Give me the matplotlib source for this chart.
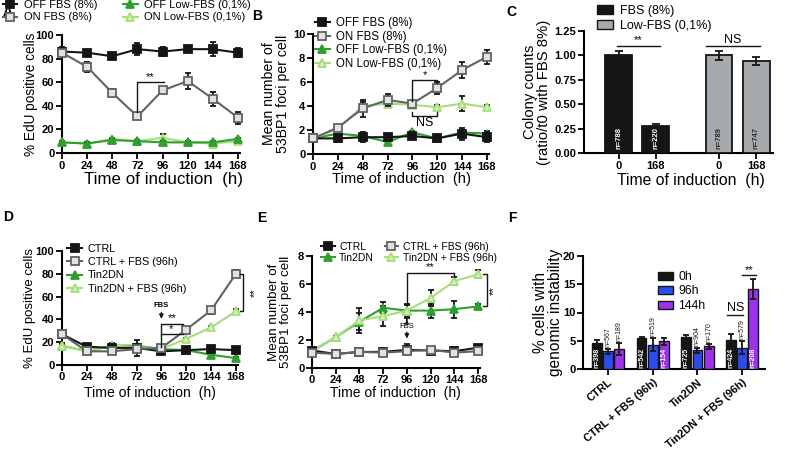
import matplotlib.pyplot as plt
from matplotlib.patches import Patch

plt.rcParams['font.family'] = ['Liberation Sans', 'DejaVu Sans']

W, H = 791, 451

hours = [0, 24, 48, 72, 96, 120, 144, 168]

# A - EdU, FBS vs low FBS
edu_off_fbs = [86, 85, 82, 88, 86, 88, 88, 85]
edu_off_fbs_err = [4, 2, 1, 5, 4, 1, 6, 4]
edu_on_fbs = [85, 73, 51, 31, 53, 61, 46, 30]
edu_on_fbs_err = [2, 4, 3, 1, 2, 7, 6, 5]
edu_off_low = [9, 8, 11, 10, 9, 9, 9, 12]
edu_off_low_err = [1, 1, 1, 1, 1, 1, 1, 1]
edu_on_low = [9, 8, 12, 10, 13, 9, 8, 10]
edu_on_low_err = [1, 1, 1, 1, 3, 1, 1, 1]

# B - 53BP1 foci, FBS vs low FBS
foci_off_fbs = [1.3, 1.3, 1.4, 1.4, 1.5, 1.3, 1.7, 1.4]
foci_off_fbs_err = [0.2, 0.3, 0.4, 0.2, 0.2, 0.15, 0.5, 0.4]
foci_on_fbs = [1.3, 2.2, 3.8, 4.5, 4.2, 5.5, 7.0, 8.1]
foci_on_fbs_err = [0.1, 0.2, 0.7, 0.5, 0.2, 0.5, 0.7, 0.6]
foci_off_low = [1.3, 1.7, 1.5, 1.0, 1.8, 1.3, 1.8, 1.7]
foci_off_low_err = [0.1, 0.1, 0.2, 0.1, 0.1, 0.1, 0.2, 0.2]
foci_on_low = [1.3, 2.1, 4.0, 4.2, 4.1, 3.9, 4.2, 3.9]
foci_on_low_err = [0.1, 0.2, 0.3, 0.3, 0.2, 0.2, 0.6, 0.2]

# C - colony counts
colony_ticks = ['0', '168', '0', '168']
colony_vals = [1.00, 0.28, 1.00, 0.94]
colony_err = [0.05, 0.015, 0.045, 0.04]
colony_n = ['n=788', 'n=220', 'n=789', 'n=747']

# D - EdU, Tin2DN
edu_ctrl = [27, 16, 15, 15, 12, 13, 14, 13]
edu_ctrl_err = [3, 2, 3, 7, 2, 1, 1, 1]
edu_ctrl_fbs = [27, 12, 12, 14, 15, 31, 48, 80]
edu_ctrl_fbs_err = [2, 2, 2, 2, 2, 2, 3, 3]
edu_tin = [17, 12, 17, 17, 14, 13, 9, 6]
edu_tin_err = [2, 1, 2, 1, 1, 1, 1, 1]
edu_tin_fbs = [17, 12, 17, 16, 14, 23, 33, 47]
edu_tin_fbs_err = [1, 1, 1, 1, 1, 1, 1, 2]

# E - 53BP1 foci, Tin2DN
foci_ctrl = [1.25, 1.0, 1.15, 1.15, 1.3, 1.25, 1.2, 1.45]
foci_ctrl_err = [0.1, 0.1, 0.1, 0.15, 0.4, 0.2, 0.3, 0.2]
foci_ctrl_fbs = [1.1, 1.0, 1.15, 1.1, 1.2, 1.3, 1.1, 1.2]
foci_ctrl_fbs_err = [0.1, 0.1, 0.1, 0.1, 0.2, 0.2, 0.15, 0.15]
foci_tin = [1.2, 2.2, 3.3, 4.3, 4.1, 4.1, 4.2, 4.4]
foci_tin_err = [0.1, 0.1, 0.6, 0.4, 0.5, 0.5, 0.6, 0.2]
foci_tin_fbs = [1.2, 2.2, 3.4, 3.7, 4.1, 5.0, 6.2, 6.7]
foci_tin_fbs_err = [0.1, 0.1, 0.9, 0.7, 0.4, 0.6, 0.3, 0.3]

# F - genomic instability
gi_groups = ['CTRL', 'CTRL + FBS (96h)', 'Tin2DN', 'Tin2DN + FBS (96h)']
gi_0h = [4.6, 5.4, 5.6, 5.2]
gi_0h_err = [0.5, 0.3, 0.5, 1.0]
gi_96h = [3.1, 4.3, 3.3, 3.8]
gi_96h_err = [0.5, 1.2, 0.5, 1.2]
gi_144h = [3.5, 4.9, 4.0, 14.2]
gi_144h_err = [1.1, 0.6, 0.4, 1.8]
n_0h = ['n=398', 'n=542', 'n=725', 'n=424']
n_96h = ['n=567', 'n=519', 'n=904', 'n=579']
n_144h = ['n=189', 'n=154', 'n=170', 'n=208']
n_144h_inside = [False, True, False, True]

BLACK = '#151515'
GRAY = '#606264'
GRAY_FILL = '#e2e2e2'
GREEN = '#2e9f2e'
LGREEN = '#a6de7c'
LGREEN_FILL = '#d3efbb'
BLUE = '#2b4df0'
PURPLE = '#9b32ec'
BAR_GRAY = '#a7aaad'

fig = plt.figure(figsize=(W / 100, H / 100), dpi=100)


def px(x, y):
    return x / W, 1 - y / H


def make_ax(left, right, top, bottom):
    return fig.add_axes([left / W, 1 - bottom / H, (right - left) / W, (bottom - top) / H])


def style(ax):
    for s in ['top', 'right']:
        ax.spines[s].set_visible(False)
    for s in ['left', 'bottom']:
        ax.spines[s].set_linewidth(1.5)
    ax.tick_params(width=1.3, length=4, labelsize=8, pad=1.5)


def bold_ticks(ax):
    for lab in ax.get_xticklabels() + ax.get_yticklabels():
        lab.set_fontweight('bold')


def labels(ax, xl, xpos, xsize, yl, ypos, ysize):
    if xl:
        ax.set_xlabel(xl, fontsize=xsize, va='center')
        ax.xaxis.set_label_coords(*px(*xpos), transform=fig.transFigure)
    ax.set_ylabel(yl, fontsize=ysize, va='center', linespacing=1.05)
    ax.yaxis.set_label_coords(*px(*ypos), transform=fig.transFigure)


def series(ax, y, err, color, marker, mfc, label, z):
    c = ax.errorbar(hours, y, yerr=err, color=color, marker=marker, ms=5.5,
                    mfc=mfc, mec=color, mew=1.3, lw=1.5, ecolor=BLACK,
                    elinewidth=1.3, capsize=2.5, capthick=1.3,
                    zorder=z, clip_on=False)
    c[0].set_label(label)
    return c[0]


def line_axes(ax, ymax, ystep):
    style(ax)
    ax.set_xlim(0, 170)
    ax.set_ylim(0, ymax)
    ax.set_xticks(hours)
    ax.set_yticks([ystep * i for i in range(int(round(ymax / ystep)) + 1)])
    bold_ticks(ax)


def bracket(ax, xs, ys):
    ax.plot(xs, ys, color=BLACK, lw=1, clip_on=False, zorder=6)


# ---------------- A ----------------
axA = make_ax(62, 240, 35, 153)
hA = [series(axA, edu_off_fbs, edu_off_fbs_err, BLACK, 's', BLACK, 'OFF FBS (8%)', 4),
      series(axA, edu_on_fbs, edu_on_fbs_err, GRAY, 's', GRAY_FILL, 'ON FBS (8%)', 5),
      series(axA, edu_off_low, edu_off_low_err, GREEN, '^', GREEN, 'OFF Low-FBS (0,1%)', 4),
      series(axA, edu_on_low, edu_on_low_err, LGREEN, '^', LGREEN_FILL, 'ON Low-FBS (0,1%)', 3)]
line_axes(axA, 100, 20)
labels(axA, 'Time of induction  (h)', (164, 179), 12.2, '% EdU positive cells', (30.5, 94), 9.8)
bracket(axA, [72, 72, 97], [35, 60, 60])
axA.text(84.5, 60.5, '**', ha='center', va='bottom', fontsize=8)
fig.legend(handles=hA, loc='upper left', bbox_to_anchor=px(3, 0), ncol=2,
           frameon=False, fontsize=8, handlelength=1.3, handletextpad=0.6,
           columnspacing=2.3, labelspacing=0.22, borderpad=0, borderaxespad=0,
           numpoints=1)

# ---------------- B ----------------
axB = make_ax(313, 489, 34, 154)
hB = [series(axB, foci_off_fbs, foci_off_fbs_err, BLACK, 's', BLACK, 'OFF FBS (8%)', 4),
      series(axB, foci_on_fbs, foci_on_fbs_err, GRAY, 's', GRAY_FILL, 'ON FBS (8%)', 5),
      series(axB, foci_off_low, foci_off_low_err, GREEN, '^', GREEN, 'OFF Low-FBS (0,1%)', 3),
      series(axB, foci_on_low, foci_on_low_err, LGREEN, '^', LGREEN_FILL, 'ON Low-FBS (0,1%)', 3)]
line_axes(axB, 10, 2)
labels(axB, 'Time of induction  (h)', (401, 179), 10.6,
       'Mean number of\n53BP1 foci per cell', (276, 94), 10.2)
bracket(axB, [96, 96, 120, 120], [4.45, 6.2, 6.2, 5.9])
axB.text(108, 6.2, '*', ha='center', va='bottom', fontsize=8)
bracket(axB, [96, 96, 120, 120], [3.5, 3.2, 3.2, 3.5])
axB.text(108, 3.05, 'NS', ha='center', va='top', fontsize=9)
fig.legend(handles=hB, loc='upper left', bbox_to_anchor=px(315, 17), ncol=1,
           frameon=False, fontsize=8.3, handlelength=1.3, handletextpad=0.5,
           labelspacing=0.15, borderpad=0, borderaxespad=0, numpoints=1)

# ---------------- C ----------------
axC = make_ax(584, 773, 31, 153)
style(axC)
cx = [0, 1, 2.7, 3.7]
ccol = [BLACK, BLACK, BAR_GRAY, BAR_GRAY]
axC.bar(cx, colony_vals, width=0.72, color=ccol, edgecolor=BLACK, linewidth=1.3,
        yerr=colony_err, error_kw=dict(ecolor=BLACK, elinewidth=1.3, capsize=3, capthick=1.3),
        zorder=3)
axC.set_xlim(-0.93, 4.15)
axC.set_ylim(0, 1.25)
axC.set_xticks(cx, colony_ticks)
axC.set_yticks([0, 0.25, 0.5, 0.75, 1.0, 1.25], ['0.00', '0.25', '0.50', '0.75', '1.00', '1.25'])
bold_ticks(axC)
for x, t, c in zip(cx, colony_n, ['white', 'white', '#2a2a2a', '#2a2a2a']):
    axC.text(x, 0.04, t, rotation=90, ha='center', va='bottom', fontsize=5.5,
             fontweight='bold', color=c, zorder=5)
labels(axC, 'Time of induction  (h)', (691, 180), 11.3,
       'Colony counts\n(ratio/t0 with FBS 8%)', (537, 92), 10.7)
bracket(axC, [-0.05, 1.1], [1.1, 1.1])
axC.text(0.52, 1.11, '**', ha='center', va='bottom', fontsize=8)
bracket(axC, [2.35, 3.8], [1.1, 1.1])
axC.text(3.07, 1.1, 'NS', ha='center', va='bottom', fontsize=9)
fig.legend(handles=[Patch(facecolor=BLACK, edgecolor=BLACK, label='FBS (8%)'),
                    Patch(facecolor=BAR_GRAY, edgecolor=BLACK, label='Low-FBS (0,1%)')],
           loc='upper left', bbox_to_anchor=px(597, 5), frameon=False, fontsize=9,
           handlelength=1.3, handleheight=0.75, handletextpad=0.55, labelspacing=0.2,
           borderpad=0, borderaxespad=0)

# ---------------- D ----------------
axD = make_ax(62, 238, 251, 365)
hD = [series(axD, edu_ctrl, edu_ctrl_err, BLACK, 's', BLACK, 'CTRL', 4),
      series(axD, edu_ctrl_fbs, edu_ctrl_fbs_err, GRAY, 's', GRAY_FILL, 'CTRL + FBS (96h)', 5),
      series(axD, edu_tin, edu_tin_err, GREEN, '^', GREEN, 'Tin2DN', 3),
      series(axD, edu_tin_fbs, edu_tin_fbs_err, LGREEN, '^', LGREEN_FILL, 'Tin2DN + FBS (96h)', 3)]
line_axes(axD, 100, 20)
axD.tick_params(axis='x', pad=1)
labels(axD, 'Time of induction  (h)', (150, 393), 10.1, '% EdU positive cells', (30, 308), 9.5)
bracket(axD, [96, 96, 117], [16, 36, 36])
axD.text(106, 36.5, '**', ha='center', va='bottom', fontsize=8)
bracket(axD, [96, 117], [27, 27])
axD.text(105, 27.5, '*', ha='center', va='bottom', fontsize=8)
axD.text(96, 49, 'FBS', ha='center', va='bottom', fontsize=5.5, fontweight='bold')
axD.annotate('', xy=(96, 38), xytext=(96, 48.5),
             arrowprops=dict(arrowstyle='-|>', color=BLACK, lw=1, mutation_scale=6))
bracket(axD, [172, 175, 175, 172], [80, 80, 47, 47])
axD.text(186, 63.5, '**', rotation=90, ha='center', va='center', fontsize=8, clip_on=False)
fig.legend(handles=hD, loc='upper left', bbox_to_anchor=px(67, 244), ncol=1,
           frameon=False, fontsize=7.8, handlelength=1.4, handletextpad=0.5,
           labelspacing=0.3, borderpad=0, borderaxespad=0, numpoints=1)

# ---------------- E ----------------
axE = make_ax(312, 480, 256, 368)
hE = [series(axE, foci_ctrl, foci_ctrl_err, BLACK, 's', BLACK, 'CTRL', 4),
      series(axE, foci_tin, foci_tin_err, GREEN, '^', GREEN, 'Tin2DN', 3),
      series(axE, foci_ctrl_fbs, foci_ctrl_fbs_err, GRAY, 's', GRAY_FILL, 'CTRL + FBS (96h)', 5),
      series(axE, foci_tin_fbs, foci_tin_fbs_err, LGREEN, '^', LGREEN_FILL, 'Tin2DN + FBS (96h)', 3)]
line_axes(axE, 8, 2)
axE.tick_params(axis='x', pad=1)
labels(axE, 'Time of induction  (h)', (395, 393), 10.0,
       'Mean number of\n53BP1 foci per cell', (280, 312), 9.6)
bracket(axE, [96, 96, 144, 144], [4.6, 6.8, 6.8, 6.5])
axE.text(120, 6.82, '**', ha='center', va='bottom', fontsize=8)
bracket(axE, [173, 177, 177, 173], [6.7, 6.7, 4.4, 4.4])
axE.text(184, 5.55, '**', rotation=90, ha='center', va='center', fontsize=8, clip_on=False)
axE.text(96, 3.0, 'FBS', ha='center', va='center', fontsize=5.5)
axE.annotate('', xy=(96, 1.9), xytext=(96, 2.75),
             arrowprops=dict(arrowstyle='-|>', color=BLACK, lw=1, mutation_scale=6))
axE.annotate('', xy=(96, 3.65), xytext=(96, 3.25),
             arrowprops=dict(arrowstyle='-|>', color=BLACK, lw=1, mutation_scale=5))
fig.legend(handles=hE, loc='upper left', bbox_to_anchor=px(321, 242), ncol=2,
           frameon=False, fontsize=7.5, handlelength=1.3, handletextpad=0.45,
           columnspacing=1.0, labelspacing=0.1, borderpad=0, borderaxespad=0,
           numpoints=1)

# ---------------- F ----------------
axF = make_ax(583, 765, 256, 369)
style(axF)
gx = list(range(len(gi_groups)))
ekw = dict(ecolor=BLACK, elinewidth=1.3, capsize=2.5, capthick=1.3)
bw = 0.22
off = 0.25
axF.bar([x - off for x in gx], gi_0h, width=bw, color=BLACK, edgecolor=BLACK, lw=1,
        yerr=gi_0h_err, error_kw=ekw, label='0h', zorder=3)
axF.bar(gx, gi_96h, width=bw, color=BLUE, edgecolor=BLACK, lw=1,
        yerr=gi_96h_err, error_kw=ekw, label='96h', zorder=3)
axF.bar([x + off for x in gx], gi_144h, width=bw, color=PURPLE, edgecolor=BLACK, lw=1,
        yerr=gi_144h_err, error_kw=ekw, label='144h', zorder=3)
for x in gx:
    axF.text(x - off, 0.2, n_0h[x], rotation=90, ha='center', va='bottom',
             fontsize=5, fontweight='bold', color='white', zorder=5)
    axF.text(x, gi_96h[x] + gi_96h_err[x] + 0.3, n_96h[x], rotation=90, ha='center',
             va='bottom', fontsize=5, color=BLACK, zorder=5)
    if n_144h_inside[x]:
        axF.text(x + off, 0.2, n_144h[x], rotation=90, ha='center', va='bottom',
                 fontsize=5, fontweight='bold', color='white', zorder=5)
    else:
        axF.text(x + off, gi_144h[x] + gi_144h_err[x] + 0.3, n_144h[x], rotation=90,
                 ha='center', va='bottom', fontsize=5, color=BLACK, zorder=5)
axF.set_xlim(-0.56, 3.51)
axF.set_ylim(0, 20)
axF.set_yticks([0, 5, 10, 15, 20])
axF.set_xticks(gx, gi_groups, rotation=40, ha='right', rotation_mode='anchor')
axF.tick_params(axis='x', pad=2, labelsize=7.8)
bold_ticks(axF)
labels(axF, None, None, None, '% cells with\ngenomic instability', (548, 312), 11.2)
bracket(axF, [3 - 0.33, 3.02], [9.6, 9.6])
axF.text(3 - 0.15, 9.75, 'NS', ha='center', va='bottom', fontsize=9)
bracket(axF, [3.0, 3.3], [16.6, 16.6])
axF.text(3.15, 16.7, '**', ha='center', va='bottom', fontsize=8)
axF.legend(loc='upper left', bbox_to_anchor=px(658, 271), bbox_transform=fig.transFigure,
           frameon=False, fontsize=8.8, handlelength=1.2, handleheight=0.65,
           handletextpad=0.45, labelspacing=0.2, borderpad=0, borderaxespad=0)

# panel letters
for letter, (x, y) in zip('ABCDEF', [(8, 12), (257, 16), (511, 12), (8, 217), (262, 218), (512, 218)]):
    fig.text(*px(x, y), letter, ha='center', va='center', fontsize=10, fontweight='bold')

fig.savefig('out.png', dpi=100)
